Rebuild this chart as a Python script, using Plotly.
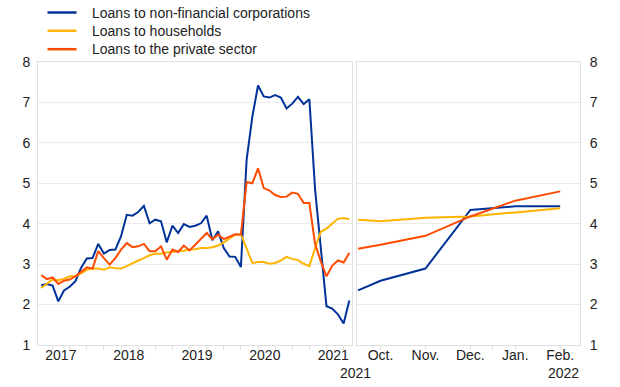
import plotly.graph_objects as go

# ---- data ----
# left panel: monthly, index 0 = first month shown
nfc_left = [2.48, 2.51, 2.47, 2.08, 2.35, 2.44, 2.58, 2.91, 3.14, 3.15,
            3.50, 3.26, 3.35, 3.36, 3.69, 4.22, 4.20, 4.29, 4.44, 4.01,
            4.10, 4.06, 3.54, 3.95, 3.77, 3.99, 3.92, 3.95, 4.01, 4.20,
            3.59, 3.81, 3.40, 3.19, 3.18, 2.93, 5.58, 6.64, 7.42, 7.15,
            7.12, 7.18, 7.12, 6.85, 6.97, 7.14, 6.96, 7.08, 4.85, 3.35,
            1.96, 1.90, 1.76, 1.53, 2.10]
hh_left = [2.41, 2.51, 2.62, 2.60, 2.64, 2.70, 2.70, 2.77, 2.86, 2.89,
           2.89, 2.86, 2.92, 2.90, 2.89, 2.95, 3.03, 3.09, 3.15, 3.22,
           3.26, 3.26, 3.29, 3.30, 3.32, 3.33, 3.36, 3.37, 3.40, 3.40,
           3.42, 3.46, 3.54, 3.64, 3.73, 3.74, 3.38, 3.03, 3.05, 3.05,
           3.01, 3.03, 3.09, 3.18, 3.13, 3.10, 3.01, 2.95, 3.40, 3.80,
           3.88, 4.00, 4.12, 4.14, 4.11]
ps_left = [2.73, 2.63, 2.67, 2.51, 2.59, 2.62, 2.70, 2.80, 2.92, 2.89,
           3.32, 3.15, 2.99, 3.15, 3.36, 3.52, 3.42, 3.44, 3.50, 3.32,
           3.32, 3.44, 3.11, 3.36, 3.30, 3.46, 3.34, 3.48, 3.63, 3.77,
           3.62, 3.73, 3.62, 3.69, 3.74, 3.73, 5.03, 5.00, 5.37, 4.88,
           4.82, 4.71, 4.66, 4.67, 4.77, 4.74, 4.51, 4.51, 3.50, 3.07,
           2.70, 2.96, 3.09, 3.04, 3.28]
left_x = list(range(len(nfc_left)))
year_labels = ["2017", "2018", "2019", "2020", "2021"]
year_label_pos = [3.45, 15.35, 27.3, 39.2, 51.2]
quarter_ticks = [2 + 3 * k for k in range(18)]

# right panel: month offsets (Oct. = 0)
right_x = [-0.5, 0, 1, 2, 3, 4]
nfc_right = [2.35, 2.59, 2.89, 4.34, 4.43, 4.43]
hh_right = [4.10, 4.06, 4.15, 4.18, 4.28, 4.38]
ps_right = [3.38, 3.48, 3.70, 4.18, 4.57, 4.80]
month_labels = ["Oct.", "Nov.", "Dec.", "Jan.", "Feb."]
month_pos = [0, 1, 2, 3, 4]
right_minor_ticks = [0, 1, 2, 2.5, 3, 4]

y_ticks = [1, 2, 3, 4, 5, 6, 7, 8]

names = ["Loans to non-financial corporations", "Loans to households",
         "Loans to the private sector"]
colors = ["#003299", "#FFB400", "#FF4B00"]

FONT = "Liberation Sans, Arial, sans-serif"
GRID = "#ebebeb"
FRAME = "#e0e0e0"
TXT = "#222222"
W, H = 620, 387

fig = go.Figure()
left_series = [nfc_left, hh_left, ps_left]
right_series = [nfc_right, hh_right, ps_right]
for name, col, ly, ry in zip(names, colors, left_series, right_series):
    fig.add_trace(go.Scatter(x=left_x, y=ly, mode="lines", name=name,
                             line=dict(color=col, width=2),
                             xaxis="x", yaxis="y", showlegend=False))
    fig.add_trace(go.Scatter(x=right_x, y=ry, mode="lines", name=name,
                             line=dict(color=col, width=2),
                             xaxis="x2", yaxis="y2", showlegend=False))

# legend drawn by hand (container pixel positions)
legend_rows_y = [12.5, 30.8, 49.2]
for name, col, ry in zip(names, colors, legend_rows_y):
    fig.add_shape(type="line", xref="paper", yref="paper",
                  x0=(47.5 - 38) / 542, x1=(76.5 - 38) / 542,
                  y0=(345 - ry) / 283, y1=(345 - ry) / 283,
                  line=dict(color=col, width=2.5))
    fig.add_annotation(text=name, xref="paper", yref="paper",
                       x=(90 - 38) / 542, y=(345 - ry) / 283,
                       xanchor="left", yanchor="middle", showarrow=False,
                       font=dict(size=14, color=TXT, family=FONT))

axis_common = dict(showline=True, linecolor=FRAME, linewidth=1, mirror=True,
                   zeroline=False, automargin=False, tickangle=0,
                   tickfont=dict(size=14, color=TXT, family=FONT))

fig.update_layout(
    width=W, height=H,
    margin=dict(l=38, r=40, t=62, b=42, autoexpand=False),
    paper_bgcolor="white", plot_bgcolor="white",
    font=dict(family=FONT, size=14, color=TXT),
    showlegend=False,
    xaxis=dict(domain=[0, 0.5788], range=[-0.56, 54.42],
               tickmode="array", tickvals=year_label_pos, ticktext=year_labels,
               ticks="", showgrid=False, ticklabelstandoff=-3,
               minor=dict(tickmode="array", tickvals=quarter_ticks,
                          ticks="outside", ticklen=4, tickcolor=FRAME,
                          showgrid=False),
               **axis_common),
    xaxis2=dict(domain=[0.588, 1.0], range=[-0.53, 4.44], anchor="y2",
                tickmode="array", tickvals=month_pos, ticktext=month_labels,
                ticks="", showgrid=False, ticklabelstandoff=-3,
                minor=dict(tickmode="array", tickvals=right_minor_ticks,
                           ticks="outside", ticklen=4, tickcolor=FRAME,
                           showgrid=False),
                **axis_common),
    yaxis=dict(range=[1, 8], tickvals=y_ticks, showgrid=True, gridcolor=GRID,
               anchor="x", ticks="", ticklabelstandoff=4, **axis_common),
    yaxis2=dict(range=[1, 8], tickvals=y_ticks, showgrid=True, gridcolor=GRID,
                anchor="x2", side="right", ticks="", ticklabelstandoff=6,
                **axis_common),
)

fig.add_annotation(text="2021", x=0.586, y=-0.1, xref="paper", yref="paper",
                   showarrow=False, yanchor="middle",
                   font=dict(size=14, color=TXT, family=FONT))
fig.add_annotation(text="2022", x=1.001, y=-0.1, xref="paper", yref="paper",
                   showarrow=False, yanchor="middle",
                   font=dict(size=14, color=TXT, family=FONT))

fig.write_html("out.html",
               config={"displayModeBar": False},
               post_script="document.body.style.margin='0';"
                           "document.body.style.overflow='hidden';")
